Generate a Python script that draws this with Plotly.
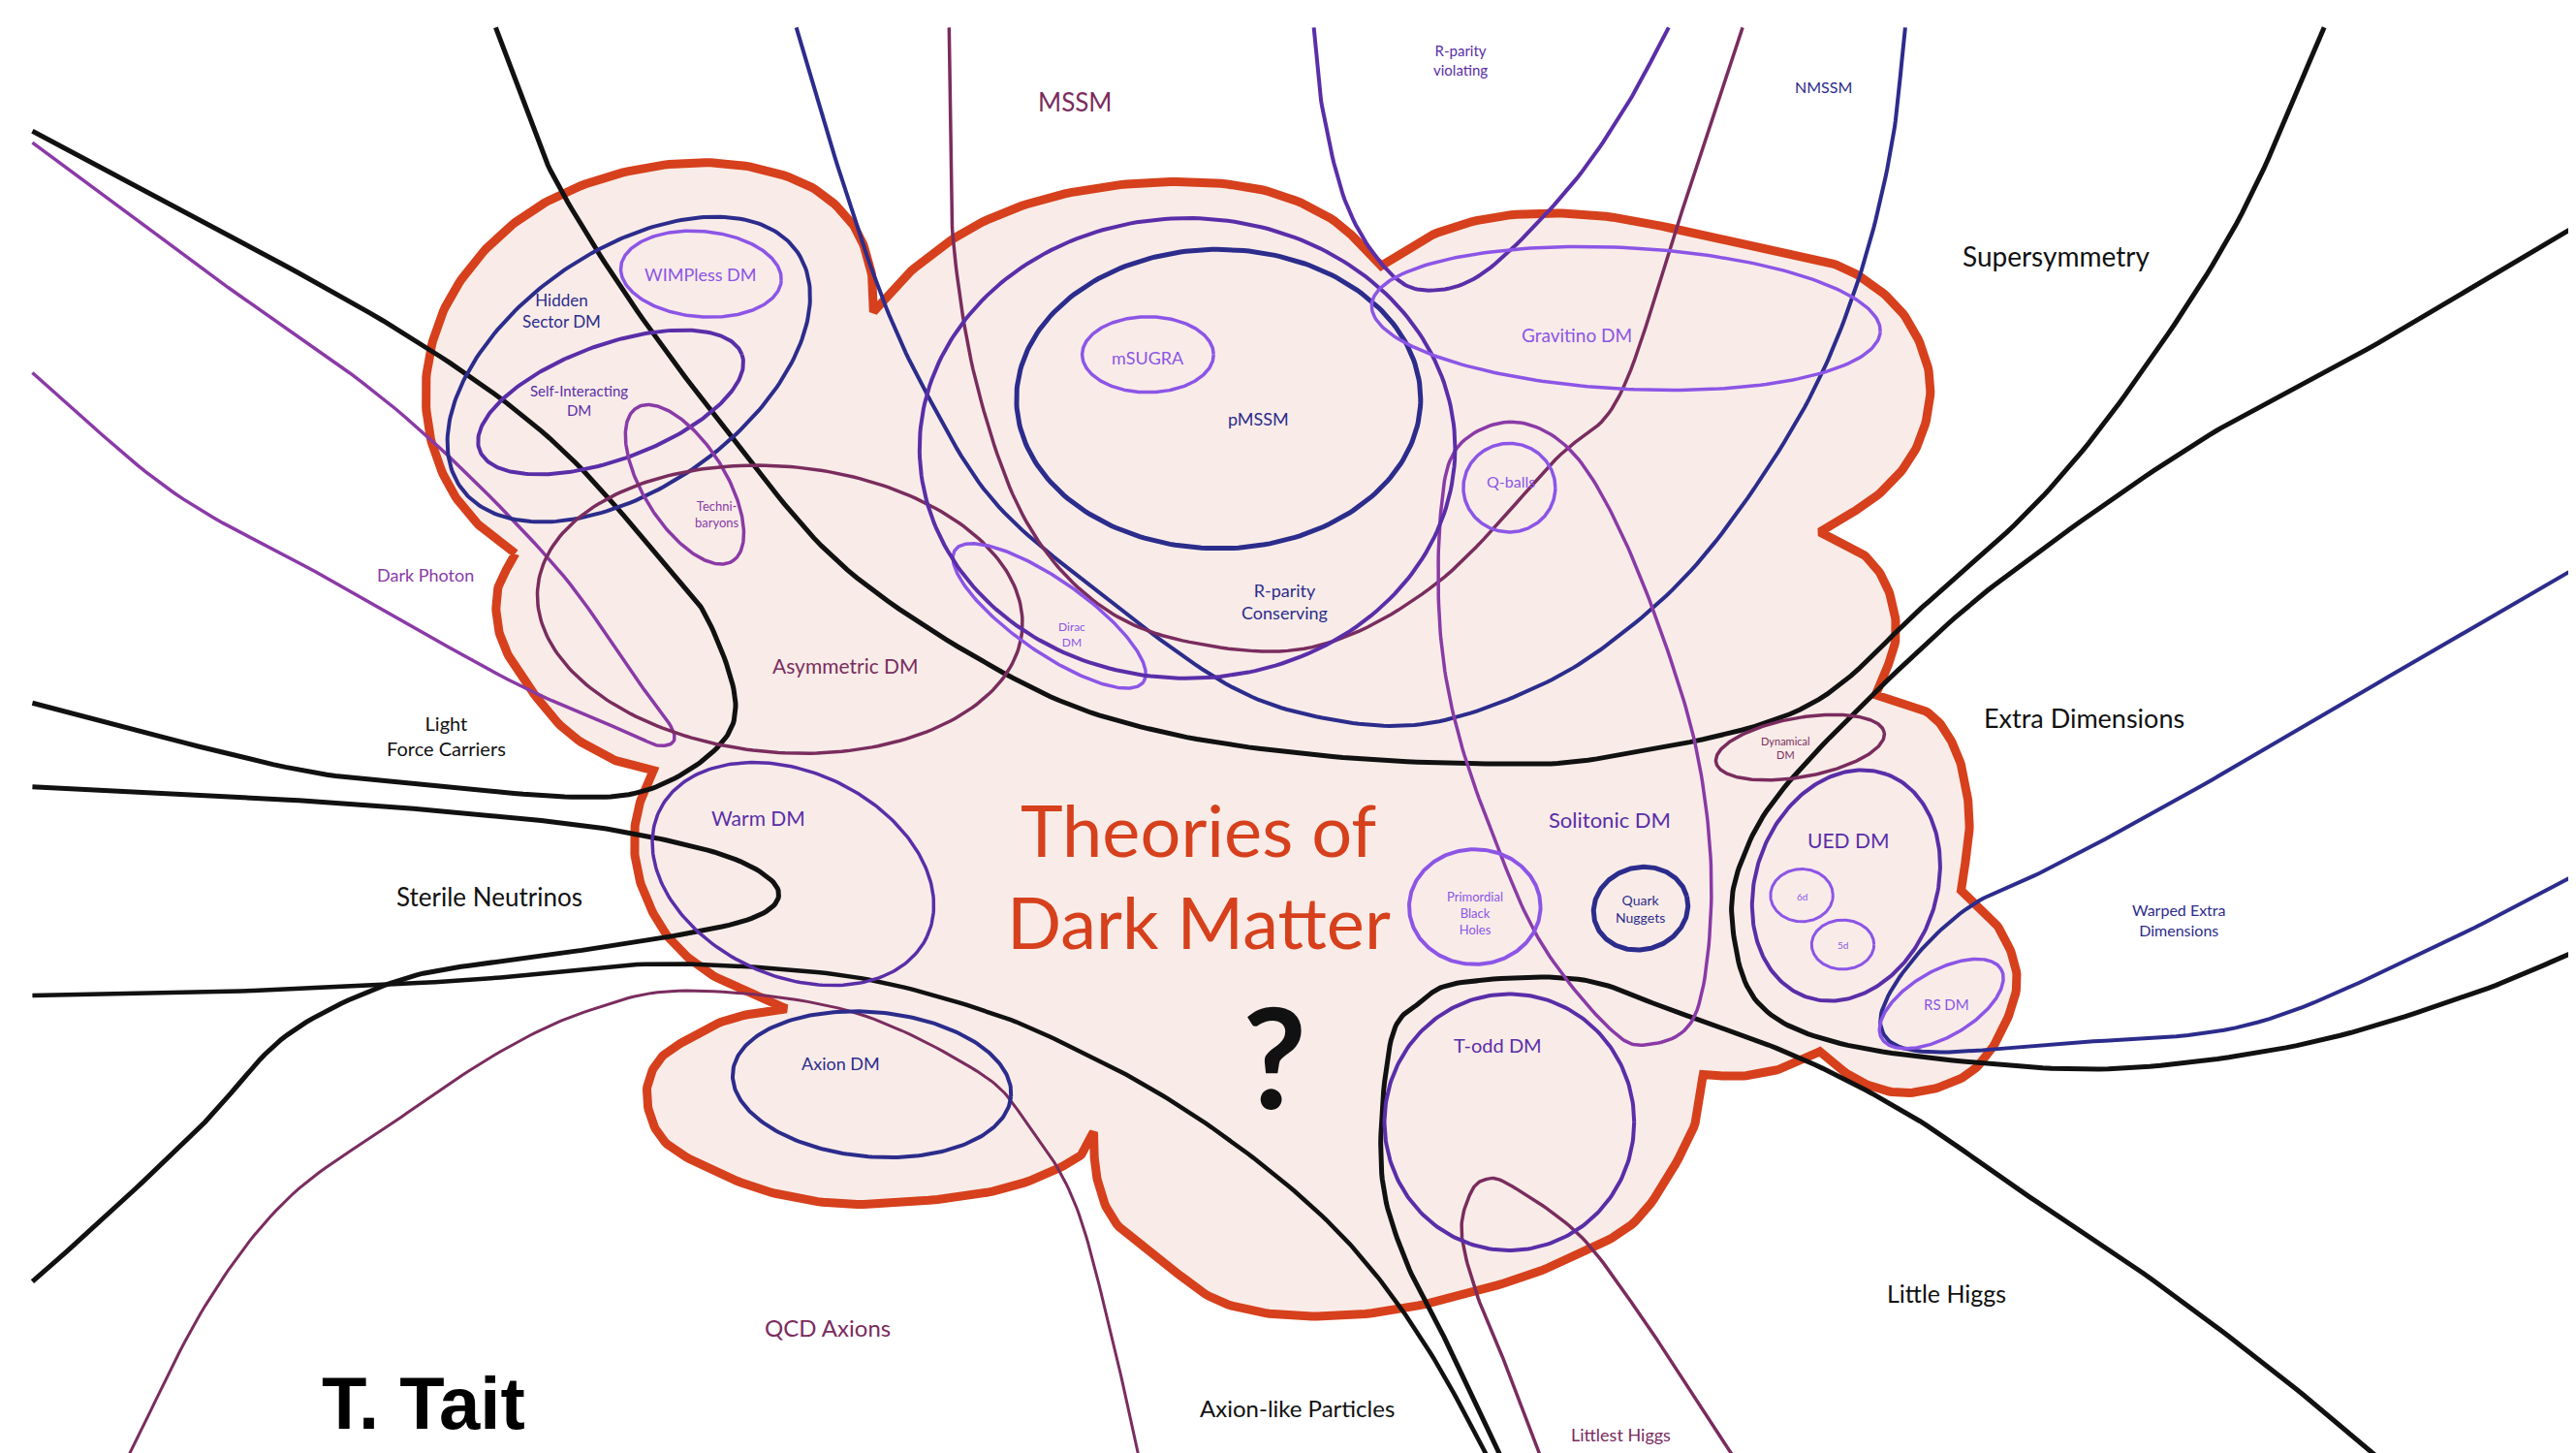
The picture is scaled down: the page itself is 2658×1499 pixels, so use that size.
import numpy as np
import plotly.graph_objects as go

# coordinate frame of the sketch: x 0..1568, y 0..884 (y grows downward)
W, H = 1568, 884

# ---- ellipses -------------------------------------------------------------
ELL_NAME = ['hidden', 'wimpless', 'selfint', 'techni', 'asym', 'warm', 'axiondm',
            'dirac', 'pmssm', 'msugra', 'rpc', 'gravitino', 'qballs', 'pbh', 'quark',
            'todd', 'dynamical', 'ued', 'd6', 'd5', 'rs']
ELL_CX = [378, 422, 367, 412, 470, 478, 526, 634, 737, 694, 718, 985, 914, 893, 994,
          914, 1091, 1119, 1092, 1117, 1177]
ELL_CY = [220, 162, 240, 290, 366, 527, 655, 370, 238, 211, 268, 189, 292, 547, 548,
          678, 450, 534, 540, 570, 606]
ELL_A = [125, 49, 85, 55, 148, 90, 85, 70, 123, 40, 163, 155, 28, 40, 29,
         76, 52, 72, 19, 19, 42]
ELL_B = [72, 26, 35, 25, 87, 62, 44, 22, 91, 23, 140, 43, 27, 35, 25,
         78, 18, 55, 16, 15, 20]
ELL_ANG = [35, -5, 20, -58, -5, -25, -5, -35, 0, 0, 0, -3, 0, 0, 15,
           0, 10, 70, 0, 0, 30]

# ---- open curves (control points) -----------------------------------------
susy = [(297, 12), (315, 60), (334, 106), (380, 180), (440, 260), (511, 342), (618, 411),
        (700, 440), (800, 455), (900, 460), (973, 456), (1091, 427), (1165, 365),
        (1239, 297), (1300, 220), (1360, 125), (1410, 12)]
nmssm = [(480, 12), (500, 80), (531, 173), (560, 236), (600, 300), (662, 354), (741, 411),
         (800, 432), (860, 436), (920, 418), (973, 388), (1032, 334), (1091, 248),
         (1125, 170), (1146, 88), (1155, 12)]
mssm = [(573, 12), (574, 80), (576, 147), (590, 230), (618, 309), (660, 360), (715, 385),
        (794, 389), (870, 350), (942, 275), (981, 236), (1017, 130), (1056, 12)]
rpv = [(795, 12), (800, 60), (815, 120), (840, 160), (865, 172), (900, 160), (950, 110),
       (985, 60), (1011, 12)]
extra = [(1568, 130), (1450, 200), (1340, 260), (1239, 329), (1172, 383), (1085, 470),
         (1055, 520), (1050, 560), (1065, 605), (1111, 629), (1200, 642), (1291, 645),
         (1400, 630), (1500, 600), (1568, 572)]
warped = [(1568, 338), (1490, 383), (1350, 465), (1250, 520), (1194, 547), (1155, 585),
          (1140, 619), (1165, 635), (1250, 630), (1363, 619), (1470, 575), (1568, 525)]
light = [(15, 75), (100, 120), (236, 195), (330, 262), (403, 342), (427, 374), (443, 423),
         (430, 452), (389, 476), (339, 480), (250, 472), (169, 462), (15, 423)]
photon = [(15, 82), (120, 160), (236, 244), (330, 336), (380, 405), (405, 440), (398, 449),
          (375, 440), (305, 409), (200, 350), (101, 295), (15, 222)]
sterile = [(15, 474), (100, 478), (203, 484), (300, 492), (373, 501), (440, 517), (469, 537),
           (450, 555), (373, 570), (300, 580), (237, 592), (170, 625), (120, 678), (60, 735),
           (15, 775)]
alp = [(15, 601), (120, 599), (237, 594), (300, 590), (383, 582), (460, 584), (528, 592),
       (600, 612), (649, 633), (700, 660), (752, 695), (800, 735), (836, 775), (870, 825),
       (902, 884)]
qcd = [(72, 884), (120, 790), (170, 725), (235, 678), (300, 635), (354, 610), (413, 598),
       (511, 610), (590, 647), (620, 678), (649, 726), (670, 800), (689, 884)]
littlest = [(934, 884), (914, 831), (895, 785), (885, 746), (890, 722), (899, 713), (914, 716),
            (956, 746), (990, 790), (1020, 835), (1048, 878), (1052, 884)]
little_higgs = [(910, 884), (880, 820), (850, 760), (836, 705), (842, 628), (860, 605),
                (885, 593), (956, 591), (1013, 610), (1091, 639), (1160, 675), (1221, 717),
                (1300, 770), (1380, 830), (1445, 884)]
solitonic = [(915, 252), (950, 268), (980, 315), (1010, 390), (1030, 462), (1037, 541),
             (1027, 613), (997, 631), (973, 619), (934, 570), (907, 511), (883, 442),
             (872, 380), (872, 310), (882, 268)]
frame_x = [707, 1568]
frame_y = [881, 881]

# ---- the cloud, one list per lobe (notch to notch) -------------------------
cloud_lobes = [
    [(309, 332), (288, 316), (268, 290), (256, 255), (256, 215), (270, 175), (300, 138),
     (340, 112), (390, 97), (440, 95), (485, 107), (513, 130), (525, 158), (527, 185)],
    [(527, 185), (550, 160), (590, 132), (640, 114), (700, 106), (760, 110), (805, 128),
     (836, 157)],
    [(836, 157), (870, 137), (915, 126), (973, 127), (1040, 140), (1090, 150), (1125, 162),
     (1155, 188), (1170, 226), (1163, 265), (1140, 295), (1103, 319)],
    [(1103, 319), (1130, 333), (1145, 355), (1149, 385), (1137, 418)],
    [(1137, 418), (1169, 429), (1185, 450), (1192, 475), (1194, 500), (1189, 537)],
    [(1189, 537), (1212, 560), (1223, 590), (1215, 620), (1198, 645), (1175, 657),
     (1150, 660), (1125, 652), (1103, 635)],
    [(1103, 635), (1081, 645), (1055, 650), (1032, 649)],
    [(1032, 649), (1025, 684), (993, 736), (954, 759), (914, 775), (846, 792), (787, 796),
     (740, 788), (708, 767), (675, 740), (663, 712), (661, 684)],
    [(661, 684), (649, 701), (600, 720), (521, 728), (470, 722), (433, 709), (400, 690),
     (389, 664), (395, 642), (413, 628), (440, 615), (474, 609)],
    [(474, 609), (433, 591), (406, 570), (390, 545), (382, 518), (383, 490), (393, 464)],
    [(393, 464), (370, 458), (340, 440), (315, 410), (300, 383), (298, 355), (309, 332)],
]

# ---- labels ----------------------------------------------------------------
LBL_TEXT = ['MSSM', 'R-parity<br>violating', 'NMSSM', 'Supersymmetry', 'Hidden<br>Sector DM',
            'WIMPless DM', 'Self-Interacting<br>DM', 'Techni-<br>baryons', 'mSUGRA', 'pMSSM',
            'Gravitino DM', 'Q-balls', 'R-parity<br>Conserving', 'Dirac<br>DM', 'Dark Photon',
            'Asymmetric DM', 'Light<br>Force Carriers', 'Warm DM', 'Sterile Neutrinos',
            'Solitonic DM', 'Primordial<br>Black<br>Holes', 'Quark<br>Nuggets',
            'Dynamical<br>DM', 'Extra Dimensions', 'UED DM', '6d', '5d', 'RS DM',
            'Warped Extra<br>Dimensions', 'Axion DM', 'T-odd DM', 'QCD Axions', 'Little Higgs',
            'Axion-like Particles', 'Littlest Higgs']
LBL_X = [650, 884, 1105, 1247, 337, 422, 348, 432, 694, 761, 955, 915, 777, 648, 254,
         510, 267, 457, 293, 975, 893, 994, 1082, 1264, 1120, 1092, 1117, 1180, 1322, 507,
         907, 499, 1180, 785, 982]
LBL_Y = [57, 32, 48, 151, 184, 162, 239, 308, 213, 250, 199, 288, 361, 381, 345,
         400, 443, 493, 541, 494, 551, 548, 450, 432, 506, 541, 570, 606, 555, 642,
         631, 803, 782, 852, 868]

NAVY = '#2c2c8c'
INDIGO = '#5a2ea8'
PURPLE = '#8c55e6'
PLUM = '#7a2c5e'
VIOLET = '#8a3aa6'
BLACK = '#111111'
RED = '#d6401c'
FILL = '#f9ece8'

ell_style = {
    'hidden': (NAVY, 4), 'wimpless': (PURPLE, 3.5), 'selfint': (INDIGO, 4),
    'techni': (VIOLET, 3.5), 'asym': (PLUM, 3.5), 'warm': (INDIGO, 3.5),
    'axiondm': (NAVY, 4), 'dirac': (PURPLE, 3.5), 'pmssm': (NAVY, 5),
    'msugra': (PURPLE, 3.5), 'rpc': (INDIGO, 4), 'gravitino': (PURPLE, 3.5),
    'qballs': (PURPLE, 3.5), 'pbh': (PURPLE, 4), 'quark': (NAVY, 5), 'todd': (INDIGO, 4),
    'dynamical': (PLUM, 3.5), 'ued': (INDIGO, 4), 'd6': (PURPLE, 3), 'd5': (PURPLE, 3),
    'rs': (PURPLE, 3.5),
}
curve_style = [
    (susy, BLACK, 5), (nmssm, NAVY, 4), (mssm, PLUM, 3.5), (rpv, INDIGO, 4),
    (extra, BLACK, 5), (warped, NAVY, 4), (light, BLACK, 5), (photon, VIOLET, 3.5),
    (sterile, BLACK, 5), (alp, BLACK, 4.5), (qcd, PLUM, 3), (littlest, PLUM, 3.5),
    (little_higgs, BLACK, 5),
]
lbl_style = [
    (PLUM, 26), (INDIGO, 15), (NAVY, 16), (BLACK, 28), (NAVY, 17), (PURPLE, 18),
    (INDIGO, 15), (VIOLET, 13), (PURPLE, 18), (NAVY, 18), (PURPLE, 19), (PURPLE, 16),
    (NAVY, 18), (PURPLE, 12), (VIOLET, 18), (PLUM, 21), (BLACK, 20), (INDIGO, 21),
    (BLACK, 26), (INDIGO, 22), (PURPLE, 13), (NAVY, 14), (PLUM, 11), (BLACK, 27),
    (INDIGO, 21), (PURPLE, 10), (PURPLE, 10), (PURPLE, 15), (NAVY, 16), (NAVY, 18),
    (INDIGO, 20), (PLUM, 24), (BLACK, 25), (BLACK, 24), (PLUM, 18),
]


def catmull(pts, n=16, closed=False):
    p = np.asarray(pts, float)
    if closed:
        ext = np.vstack([p[-1], p, p[0], p[1]])
    else:
        ext = np.vstack([2 * p[0] - p[1], p, 2 * p[-1] - p[-2]])
    t = np.linspace(0, 1, n, endpoint=False)[:, None]
    segs = []
    for i in range(1, len(ext) - 2):
        p0, p1, p2, p3 = ext[i - 1], ext[i], ext[i + 1], ext[i + 2]
        segs.append(0.5 * (2 * p1 + (-p0 + p2) * t + (2 * p0 - 5 * p1 + 4 * p2 - p3) * t ** 2
                           + (-p0 + 3 * p1 - 3 * p2 + p3) * t ** 3))
    segs.append(ext[-2][None])
    return np.vstack(segs)


def ellipse(cx, cy, a, b, ang, n=240):
    t = np.linspace(0, 2 * np.pi, n)
    th = np.radians(ang)
    x = cx + a * np.cos(t) * np.cos(th) - b * np.sin(t) * np.sin(th)
    y = cy - (a * np.cos(t) * np.sin(th) + b * np.sin(t) * np.cos(th))
    return x, y


fig = go.Figure()

# cloud fill + border
cloud = np.vstack([catmull(lobe) for lobe in cloud_lobes])
fig.add_trace(go.Scatter(x=cloud[:, 0], y=cloud[:, 1], mode='lines', fill='toself',
                         fillcolor=FILL, line=dict(color=RED, width=9), hoverinfo='skip'))

for pts, col, w in curve_style:
    c = catmull(pts)
    fig.add_trace(go.Scatter(x=c[:, 0], y=c[:, 1], mode='lines',
                             line=dict(color=col, width=w), hoverinfo='skip'))

c = catmull(solitonic, closed=True)
fig.add_trace(go.Scatter(x=c[:, 0], y=c[:, 1], mode='lines',
                         line=dict(color=VIOLET, width=3.5), hoverinfo='skip'))

for i, name in enumerate(ELL_NAME):
    ex, ey = ellipse(ELL_CX[i], ELL_CY[i], ELL_A[i], ELL_B[i], ELL_ANG[i])
    col, w = ell_style[name]
    fig.add_trace(go.Scatter(x=ex, y=ey, mode='lines', line=dict(color=col, width=w),
                             hoverinfo='skip'))

fig.add_trace(go.Scatter(x=frame_x, y=frame_y, mode='lines',
                         line=dict(color=BLACK, width=3), hoverinfo='skip'))

for txt, x, y, (col, size) in zip(LBL_TEXT, LBL_X, LBL_Y, lbl_style):
    fig.add_annotation(x=x, y=y, text=txt, showarrow=False, xanchor='center', yanchor='middle',
                       font=dict(family='Lato', size=size, color=col))

fig.add_annotation(x=725, y=500, text='Theories of', showarrow=False,
                   font=dict(family='Lato', size=74, color=RED))
fig.add_annotation(x=725, y=556, text='Dark Matter', showarrow=False,
                   font=dict(family='Lato', size=74, color=RED))
fig.add_annotation(x=771, y=637, text='<b>?</b>', showarrow=False,
                   font=dict(family='Lato', size=144, color=BLACK))
fig.add_annotation(x=253, y=849, text='<b>T. Tait</b>', showarrow=False,
                   font=dict(family='Liberation Sans Narrow, Liberation Sans', size=76, color='black'))

fig.update_layout(
    width=2658, height=1499,
    margin=dict(l=0, r=0, t=0, b=0),
    paper_bgcolor='white', plot_bgcolor='white',
    showlegend=False,
    xaxis=dict(range=[0, W], visible=False),
    yaxis=dict(range=[H, 0], visible=False),
)

fig.write_html("out.html")
